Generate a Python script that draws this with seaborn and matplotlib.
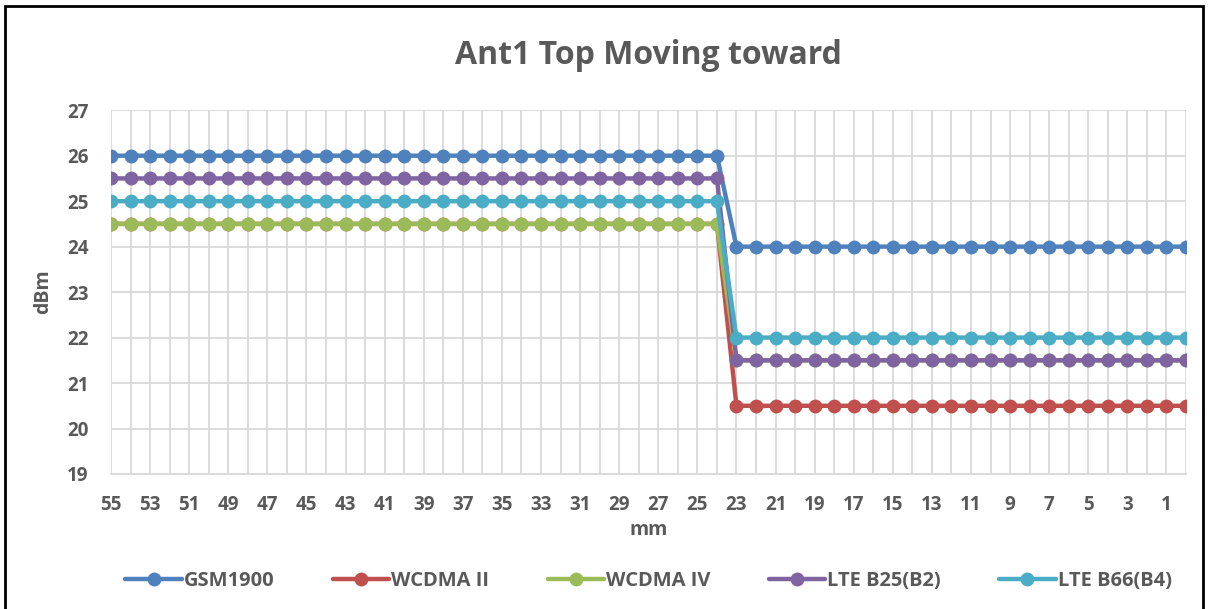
import numpy as np
import pandas as pd
import matplotlib
matplotlib.use('Agg')
import matplotlib.pyplot as plt
import seaborn as sns

sns.set_style("white")
plt.rcParams['font.family'] = ['Open Sans', 'DejaVu Sans']
plt.rcParams['font.weight'] = 'bold'

# distance in mm, 55 down to 0
mm = list(range(55, -1, -1))
# values: 32 points before the drop (55..24), 24 after (23..0)
gsm1900 = [26.0] * 32 + [24.0] * 24
wcdma_ii = [24.5] * 32 + [20.5] * 24
wcdma_iv = [24.5] * 32 + [21.5] * 24
lte_b25 = [25.5] * 32 + [21.5] * 24
lte_b66 = [25.0] * 32 + [22.0] * 24

series = ['GSM1900', 'WCDMA II', 'WCDMA IV', 'LTE B25(B2)', 'LTE B66(B4)']
colors = ['#4F81BD', '#C0504D', '#9BBB59', '#8064A2', '#4BACC6']

df = pd.concat([
    pd.DataFrame({'mm': mm, 'dBm': vals, 'band': name})
    for name, vals in zip(series, [gsm1900, wcdma_ii, wcdma_iv, lte_b25, lte_b66])
])

fig = plt.figure(figsize=(12.08, 6.09), dpi=100)
ax = fig.add_axes([0.0919, 0.2217, 0.8899, 0.5973])

sns.lineplot(data=df, x='mm', y='dBm', hue='band', palette=colors,
             marker='o', markersize=10, markeredgewidth=0, linewidth=3.2,
             ax=ax)

ax.set_xlim(55, 0)
ax.set_ylim(19, 27)
ax.set_xticks(range(55, 0, -2))
ax.set_xticks(range(55, -1, -1), minor=True)
ax.set_yticks(range(19, 28))
ax.grid(True, which='both', axis='x', color='#D9D9D9', linewidth=1.3)
ax.grid(True, which='major', axis='y', color='#D9D9D9', linewidth=1.3)
ax.set_axisbelow(True)
for s in ['top', 'right', 'left']:
    ax.spines[s].set_visible(False)
ax.spines['bottom'].set_color('#D9D9D9')
ax.spines['bottom'].set_linewidth(1.3)
ax.tick_params(axis='x', which='both', length=6, width=1.3, color='#D9D9D9',
               labelsize=13.5, labelcolor='#595959', pad=9)
ax.tick_params(axis='y', length=0, labelsize=13.5, labelcolor='#595959', pad=16)
for lab in ax.get_xticklabels() + ax.get_yticklabels():
    lab.set_fontweight('bold')

ax.set_xlabel('mm', fontsize=14, fontweight='bold', color='#595959', labelpad=4)
ax.set_ylabel('dBm', fontsize=14, fontweight='bold', color='#595959', labelpad=10)
ax.set_title('Ant1 Top Moving toward', fontsize=23, fontweight='bold',
             color='#595959', pad=33)

ax.legend(loc='center', bbox_to_anchor=(0.5, -0.295), ncol=5, frameon=False,
          handlelength=2.8, columnspacing=2.9, handletextpad=0.1, markerscale=1.0,
          prop={'size': 14.5, 'weight': 'bold'}, labelcolor='#595959')

fig.patches.append(plt.Rectangle((0.004, -0.01), 0.992, 1.0, transform=fig.transFigure,
                                 fill=False, edgecolor='black', linewidth=2))

fig.savefig('out.png', dpi=100)
